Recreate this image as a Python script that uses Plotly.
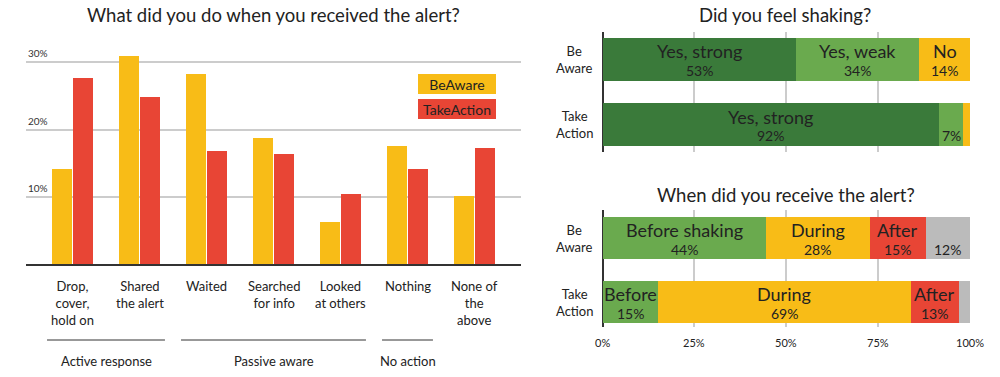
import plotly.graph_objects as go

# ---------------- data ----------------
actions = ["Drop,<br>cover,<br>hold on", "Shared<br>the alert", "Waited", "Searched<br>for info",
           "Looked<br>at others", "Nothing", "None of<br>the<br>above"]
beaware_act = [14.2, 30.9, 28.3, 18.8, 6.3, 17.6, 10.1]
takeaction_act = [27.7, 24.9, 16.8, 16.3, 10.4, 14.2, 17.3]
act_ticks = [10, 20, 30]
groups = ["Active response", "Passive aware", "No action"]
group_members = [[0, 1], [2, 3, 4], [5]]

apps = ["BeAware", "TakeAction"]
app_labels = ["Be<br>Aware", "Take<br>Action"]

shake_names = ["Yes, strong", "Yes, weak", "No"]
shake_vals = {"Yes, strong": [52.6, 91.6], "Yes, weak": [33.6, 6.6], "No": [13.8, 1.8]}
shake_show_name = {"Yes, strong": [True, True], "Yes, weak": [True, False], "No": [True, False]}
shake_show_pct = {"Yes, strong": [True, True], "Yes, weak": [True, True], "No": [True, False]}

when_names = ["Before shaking", "During", "After", "No answer"]
when_vals = {"Before shaking": [44.4, 15.0], "During": [28.4, 69.0], "After": [15.2, 12.9], "No answer": [12.0, 3.1]}
when_text = {"Before shaking": ["Before shaking", "Before"], "During": ["During", "During"],
             "After": ["After", "After"], "No answer": ["", ""]}
when_show_pct = {"Before shaking": [True, True], "During": [True, True], "After": [True, True], "No answer": [True, False]}

pct_ticks = [0, 25, 50, 75, 100]

# ---------------- styles ----------------
YEL = "#F8BC17"
RED = "#E84535"
DKG = "#3A7A3A"
LTG = "#6AAA4E"
GRY = "#BBBBBB"
FONT = "Lato"
TXT = "#222222"
W, H = 1000, 377

shake_colors = {"Yes, strong": DKG, "Yes, weak": LTG, "No": YEL}
when_colors = {"Before shaking": LTG, "During": YEL, "After": RED, "No answer": GRY}

def py(p):
    return 1 - p / H

def px(p):
    return p / W

def pct(v):
    return f"{int(v + 0.5)}%"

fig = go.Figure()

# ---------- left chart ----------
xi = list(range(len(actions)))
fig.add_trace(go.Bar(x=xi, y=beaware_act, marker_color=YEL, name="BeAware", xaxis="x", yaxis="y",
                     marker_line_width=0, hoverinfo="skip", offsetgroup="a"))
fig.add_trace(go.Bar(x=xi, y=takeaction_act, marker_color=RED, name="TakeAction", xaxis="x", yaxis="y",
                     marker_line_width=0, hoverinfo="skip", offsetgroup="b"))

# ---------- right top: shaking ----------
for nm in shake_names:
    fig.add_trace(go.Bar(y=[0, 1], x=shake_vals[nm], orientation="h", marker_color=shake_colors[nm],
                         marker_line_width=0, width=0.66, xaxis="x2", yaxis="y2", hoverinfo="skip",
                         showlegend=False))

# ---------- right bottom: when ----------
for nm in when_names:
    fig.add_trace(go.Bar(y=[0, 1], x=when_vals[nm], orientation="h", marker_color=when_colors[nm],
                         marker_line_width=0, width=0.66, xaxis="x3", yaxis="y3", hoverinfo="skip",
                         showlegend=False))

ann = []
shapes = []

def A(**kw):
    kw.setdefault("showarrow", False)
    kw.setdefault("xanchor", "center")
    kw.setdefault("yanchor", "middle")
    ann.append(kw)

# segment labels
def seg_labels(names, vals, show_name, show_pct, name_text, xref, yref):
    for row in range(2):
        cum = 0
        for nm in names:
            v = vals[nm][row]
            mid = cum + v / 2
            cum += v
            label = name_text[nm][row] if show_name(nm, row) else ""
            if label:
                A(x=mid, y=row, xref=xref, yref=yref, text=label, yshift=8,
                  font=dict(family=FONT, size=18, color=TXT))
            if show_pct[nm][row]:
                A(x=mid, y=row, xref=xref, yref=yref, text=pct(v), yshift=-11,
                  font=dict(family=FONT, size=14, color=TXT))

seg_labels(shake_names, shake_vals, lambda n, r: shake_show_name[n][r], shake_show_pct,
           {n: [n, n] for n in shake_names}, "x2", "y2")
seg_labels(when_names, when_vals, lambda n, r: bool(when_text[n][r]), when_show_pct,
           when_text, "x3", "y3")

# row labels
for yref in ["y2", "y3"]:
    for i, lab in enumerate(app_labels):
        A(x=px(574), xref="paper", y=i, yref=yref, text=lab, align="center",
          font=dict(family=FONT, size=13, color=TXT))

# left y tick labels
for t in act_ticks:
    A(x=px(26), xref="paper", y=t, yref="y", text=f"{t}%", xanchor="left", yanchor="bottom", yshift=1,
      font=dict(family=FONT, size=10, color="#333"))

# category labels
for i, lab in enumerate(actions):
    A(x=i, xref="x", y=py(276), yref="paper", text=lab, yanchor="top", align="center",
      font=dict(family=FONT, size=13, color=TXT))

# group lines and labels
pad = 0.38
for g, members in zip(groups, group_members):
    x0, x1 = min(members) - pad, max(members) + pad
    shapes.append(dict(type="line", xref="x", yref="paper", x0=x0, x1=x1, y0=py(340), y1=py(340),
                       line=dict(color="#333", width=1)))
    A(x=(x0 + x1) / 2, xref="x", y=py(361), yref="paper", text=g,
      font=dict(family=FONT, size=13, color=TXT))

# legend boxes
for lab, col, yc in [("BeAware", YEL, 84), ("TakeAction", RED, 109)]:
    A(x=px(457), xref="paper", y=py(yc), yref="paper", text=lab,
      bgcolor=col, width=76, height=18, borderpad=1, borderwidth=0,
      font=dict(family=FONT, size=14, color=TXT))

# titles
for t, xc, yc in [("What did you do when you received the alert?", 273, 15),
                  ("Did you feel shaking?", 785, 15),
                  ("When did you receive the alert?", 786, 195)]:
    A(x=px(xc), y=py(yc), xref="paper", yref="paper", text=t,
      font=dict(family=FONT, size=18.5, color=TXT))

# bottom x tick labels
for t in pct_ticks:
    A(x=t, xref="x3", y=py(342), yref="paper", text=f"{t}%",
      font=dict(family=FONT, size=11, color=TXT))

# left-plot geometry
y0_px, y30_px = 264, 62.3
ppu = (y0_px - y30_px) / 30
ytop = 35
top_px = y0_px - ytop * ppu
cat_c0, cat_step = 72.5, 67.0
xl0, xl1 = 26, 521

xr0, xr1 = 602.5, 970

def hgrid_axis(domain_px, anchor):
    return dict(domain=[px(domain_px[0]), px(domain_px[1])], range=[0, 100], anchor=anchor,
                showgrid=True, gridcolor="#CCCCCC", gridwidth=2, tickvals=pct_ticks, showticklabels=False,
                zeroline=True, zerolinecolor="#333333", zerolinewidth=1.5, showline=False, fixedrange=True)

fig.update_layout(
    width=W, height=H, margin=dict(l=0, r=0, t=0, b=0),
    paper_bgcolor="white", plot_bgcolor="white",
    barmode="stack", bargap=0.373, bargroupgap=0.05,
    showlegend=False,
    xaxis=dict(domain=[px(xl0), px(xl1)],
               range=[(xl0 - cat_c0) / cat_step, (xl1 - cat_c0) / cat_step],
               showgrid=False, zeroline=False, showticklabels=False, ticks="",
               showline=True, linecolor="#333333", linewidth=2, anchor="y"),
    yaxis=dict(domain=[py(y0_px), py(top_px)], range=[0, ytop], showgrid=True, gridcolor="#CCCCCC",
               gridwidth=2, tickvals=act_ticks, showticklabels=False, zeroline=False, anchor="x"),
    xaxis2=hgrid_axis((xr0, xr1), "y2"),
    yaxis2=dict(domain=[py(152), py(32)], range=[1 + (152 - 124.5) / 65, -(59.5 - 32) / 65],
                showgrid=False, showticklabels=False, zeroline=False, anchor="x2"),
    xaxis3=hgrid_axis((xr0, xr1), "y3"),
    yaxis3=dict(domain=[py(327), py(210)], range=[1 + (327 - 302) / 64, -(238 - 210) / 64],
                showgrid=False, showticklabels=False, zeroline=False, anchor="x3"),
    annotations=ann, shapes=shapes,
)

fig.write_html("out.html", config={"displayModeBar": False},
               post_script="document.body.style.margin='0';document.body.style.overflow='hidden';")
